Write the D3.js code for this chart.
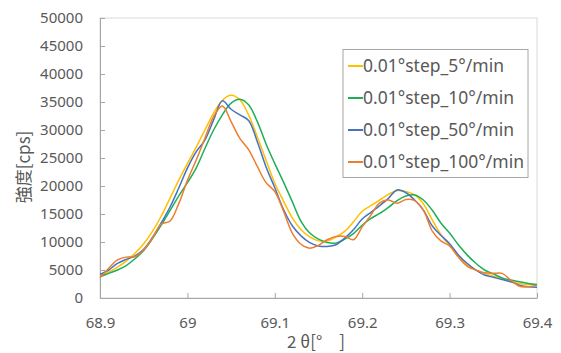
<!DOCTYPE html>
<html>
<head>
<meta charset="utf-8">
<script src="https://cdnjs.cloudflare.com/ajax/libs/d3/7.8.5/d3.min.js"></script>
<style>
  body { margin: 0; background: #fff; }
  text { fill: #595959; }
</style>
</head>
<body>
<svg width="561" height="353"></svg>
<script>
// 2θ from 68.90 to 69.40, one point every 0.01°
const angles = d3.range(51).map(i => +(68.9 + i * 0.01).toFixed(2));

const seriesNames = ['0.01°step_5°/min', '0.01°step_10°/min', '0.01°step_50°/min', '0.01°step_100°/min'];
const seriesColors = ['#FFC000', '#1DAF55', '#4472C4', '#ED7D31'];

const step5 = [3900, 4600, 5500, 6600, 8000, 9700, 11900, 14600, 17800, 21000,
  24000, 26900, 30000, 33000, 35300, 36200, 35400, 32700, 28800, 24600,
  20500, 17300, 14300, 12200, 10900, 10200, 10200, 10900, 11900, 13600,
  15500, 16500, 17500, 18500, 19200, 19000, 18400, 16800, 14000, 11300,
  9400, 7400, 5900, 5000, 4400, 3900, 3500, 2900, 2600, 2400, 2300];
const step10 = [3800, 4400, 5000, 5800, 7000, 8500, 10600, 13000, 15600, 18200,
  20600, 23200, 26700, 30000, 32700, 34800, 35500, 34500, 31500, 27500,
  24000, 20700, 17200, 13700, 11600, 10500, 9900, 9800, 10500, 11500,
  13000, 14200, 15100, 16200, 17400, 18200, 18400, 17500, 15700, 13400,
  11600, 9500, 7700, 6200, 5000, 4300, 3600, 3200, 2900, 2600, 2400];
const step50 = [4200, 5000, 6200, 6900, 7500, 8700, 10800, 13400, 16200, 19600,
  23200, 26100, 28200, 31800, 35200, 33700, 32700, 31700, 27900, 23400,
  19700, 15800, 12900, 11100, 9900, 9300, 9200, 9500, 10700, 12200,
  14100, 15300, 16500, 17800, 19300, 18800, 17500, 15700, 12900, 11200,
  9700, 7700, 6200, 5000, 4100, 3700, 3300, 2900, 2300, 2000, 1900];
const step100 = [3600, 5300, 6800, 7300, 7400, 8600, 10700, 13200, 13700, 16800,
  21000, 24600, 28500, 32400, 34300, 31500, 28500, 26500, 23500, 20600,
  19000, 15500, 11600, 9600, 8900, 9400, 10400, 11000, 11000, 10400,
  12700, 14800, 17000, 17500, 16900, 17600, 17400, 15700, 12000, 10200,
  9300, 7300, 5700, 5000, 4500, 4400, 4400, 3200, 2100, 2000, 2300];

const xTicks = [68.9, 69, 69.1, 69.2, 69.3, 69.4];
const yTicks = [0, 5000, 10000, 15000, 20000, 25000, 30000, 35000, 40000, 45000, 50000];

const allSeries = [step5, step10, step50, step100];

const svg = d3.select('svg');
const plotLeft = 100, plotRight = 537, plotTop = 18, plotBottom = 298;

const x = d3.scaleLinear().domain([68.9, 69.4]).range([plotLeft, plotRight]);
const y = d3.scaleLinear().domain([0, 50000]).range([plotBottom, plotTop]);

// plot frame
svg.append('rect')
  .attr('x', plotLeft).attr('y', plotTop)
  .attr('width', plotRight - plotLeft).attr('height', plotBottom - plotTop)
  .attr('fill', 'none').attr('stroke', '#d9d9d9').attr('stroke-width', 1);

// y axis, ticks pointing inside
const yAxis = svg.append('g')
  .attr('transform', 'translate(' + plotLeft + ',0)')
  .call(d3.axisLeft(y).tickValues(yTicks).tickSizeInner(-5).tickSizeOuter(0).tickPadding(17).tickFormat(d3.format('d')));
yAxis.select('.domain').attr('stroke', '#a6a6a6');
yAxis.selectAll('.tick line').attr('stroke', '#a6a6a6');
yAxis.selectAll('text')
  .attr('font-family', 'Noto Sans, sans-serif').attr('font-size', 15).attr('fill', '#595959');

// x axis
const xAxis = svg.append('g')
  .attr('transform', 'translate(0,' + plotBottom + ')')
  .call(d3.axisBottom(x).tickValues(xTicks).tickSizeInner(-5).tickSizeOuter(0).tickPadding(19).tickFormat(d => d));
xAxis.select('.domain').attr('stroke', '#a6a6a6');
xAxis.selectAll('.tick line').attr('stroke', '#a6a6a6');
xAxis.selectAll('text')
  .attr('font-family', 'Noto Sans, sans-serif').attr('font-size', 15).attr('fill', '#595959');

// lines
const line = d3.line()
  .x((d, i) => x(angles[i]))
  .y(d => y(d))
  .curve(d3.curveCatmullRom.alpha(0.5));

svg.append('g')
  .selectAll('path')
  .data(allSeries)
  .enter().append('path')
  .attr('d', line)
  .attr('fill', 'none')
  .attr('stroke', (d, i) => seriesColors[i])
  .attr('stroke-width', 1.5)
  .attr('stroke-linejoin', 'round');

// legend
const legend = svg.append('g');
legend.append('rect')
  .attr('x', 343).attr('y', 49.5)
  .attr('width', 185).attr('height', 128)
  .attr('fill', '#fff').attr('stroke', '#a6a6a6');

seriesNames.forEach(function(name, i) {
  const ly = 66 + i * 32;
  legend.append('line')
    .attr('x1', 348).attr('x2', 363)
    .attr('y1', ly).attr('y2', ly)
    .attr('stroke', seriesColors[i]).attr('stroke-width', 2);
  legend.append('text')
    .attr('x', 363).attr('y', ly)
    .attr('dy', '0.35em')
    .attr('font-family', 'Noto Sans, sans-serif')
    .attr('font-size', 17.5)
    .text(name);
});

// axis titles
svg.append('text')
  .attr('x', 287).attr('y', 348)
  .attr('font-family', 'Noto Sans CJK JP, sans-serif')
  .attr('font-size', 17)
  .text('2 θ[°　]');

svg.append('text')
  .attr('transform', 'translate(24,167) rotate(-90)')
  .attr('text-anchor', 'middle')
  .attr('dy', '0.35em')
  .attr('font-family', 'Noto Sans CJK JP, sans-serif')
  .attr('font-size', 17)
  .text('強度[cps]');
</script>
</body>
</html>
